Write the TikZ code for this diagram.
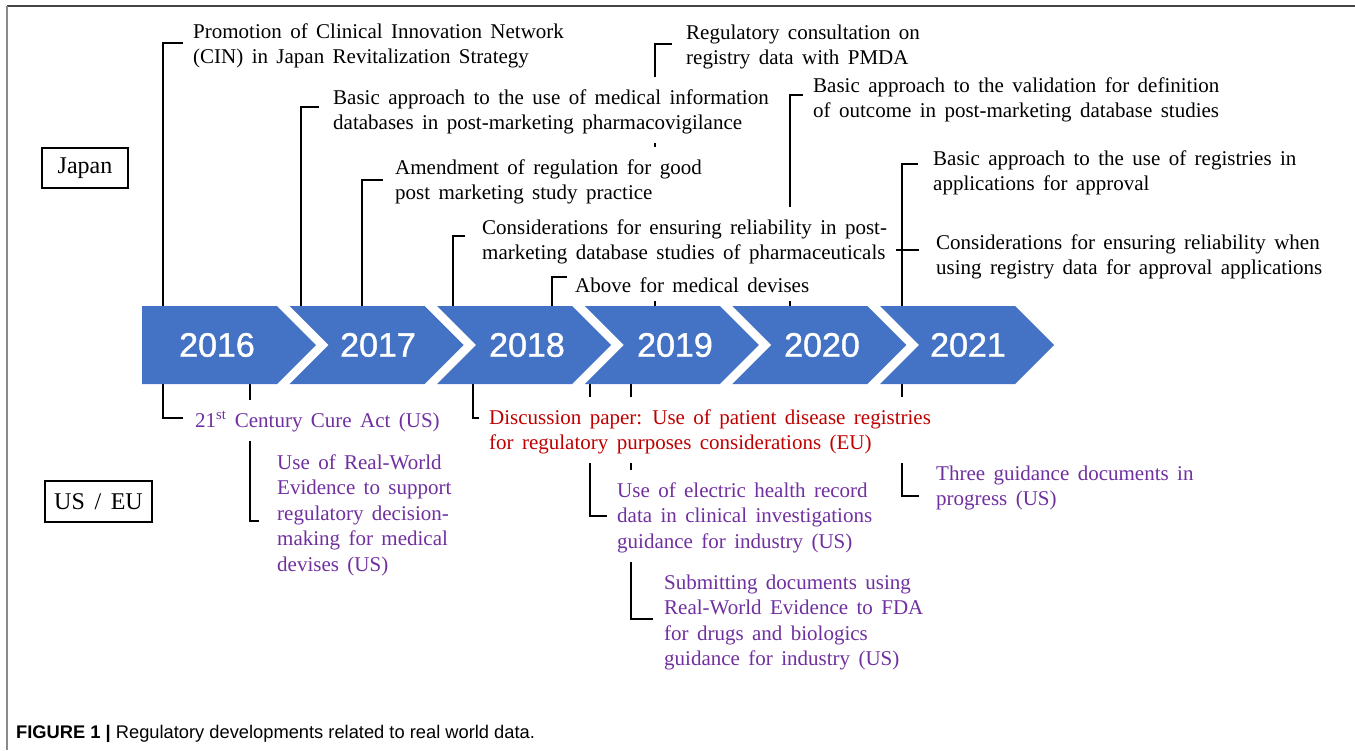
\documentclass[tikz,border=0pt]{standalone}
\usepackage{fontspec}
\setmainfont[WordSpace=1.6]{Liberation Serif}
\newfontfamily\yearfont[FakeBold=1.2]{Liberation Sans}
\newfontfamily\capfont{Liberation Sans}

\definecolor{chevblue}{HTML}{4472C4}
\definecolor{uspurple}{HTML}{7030A0}
\definecolor{eured}{HTML}{C00000}
\definecolor{frametop}{HTML}{444444}
\definecolor{frameleft}{HTML}{8A8A8A}

% strut with height only, so single lines keep their natural depth
\newcommand\hstrut{\rule{0pt}{17.85pt}}

\pgfdeclarelayer{lines}
\pgfsetlayers{lines,main}

\begin{document}
\begin{tikzpicture}[x=1pt,y=-1pt,
  lab/.style={anchor=north west, xshift=-4pt, yshift=20pt,
    inner xsep=4pt, inner ysep=9pt, fill=white, align=left,
    font=\fontsize{21}{25.5}\selectfont, text=black},
  uslab/.style={lab, text=uspurple},
  eulab/.style={lab, text=eured},
  brk/.style={line width=2pt, black},
  regionbox/.style={draw, line width=1.8pt, inner sep=0pt,
    font=\fontsize{24}{28}\selectfont},
  chev/.style={fill=chevblue, draw=none},
  yearlbl/.style={text=white, font=\yearfont\fontsize{34}{40}\selectfont, inner sep=0pt}
]
\useasboundingbox (0,0) rectangle (1355,750);

% figure frame (top and left rules)
\draw[line width=2pt, frametop] (7,6) -- (1355,6);
\draw[line width=2pt, frameleft] (7,750) -- (7,6);

% region labels
\node[regionbox, minimum width=86pt, minimum height=40pt] (japan) at (85,168) {Japan};
\node[regionbox, minimum width=107pt, minimum height=41pt] (useu) at (98.5,501.5) {US / EU};

% year chevrons
\foreach \i/\yr/\tx in {0/2016/217, 1/2017/378, 2/2018/527, 3/2019/675, 4/2020/822, 5/2021/968} {
  \pgfmathsetmacro\s{142+147.6*\i}
  \ifnum\i=0
    \fill[chev] (\s,306) -- (\s+135,306) -- (\s+174,345) -- (\s+135,384) -- (\s,384) -- cycle;
  \else
    \fill[chev] (\s,306) -- (\s+135,306) -- (\s+174,345) -- (\s+135,384) -- (\s,384) -- (\s+39,345) -- cycle;
  \fi
  \node[yearlbl] (Y\yr) at (\tx,345) {\yr};
}

% Japan events
\node[lab] (L1) at (193,31) {\hstrut Promotion of Clinical Innovation Network\\(CIN) in Japan Revitalization Strategy};
\node[lab] (L2) at (333,97) {\hstrut Basic approach to the use of medical information\\databases in post-marketing pharmacovigilance};
\node[lab] (L3) at (395,167) {\hstrut Amendment of regulation for good\\post marketing study practice};
\node[lab] (L4) at (482,227) {\hstrut Considerations for ensuring reliability in post-\\marketing database studies of pharmaceuticals};
\node[lab] (L5) at (575,285) {\hstrut Above for medical devises};
\node[lab] (L6) at (686,32) {\hstrut Regulatory consultation on\\registry data with PMDA};
\node[lab] (L7) at (813,85) {\hstrut Basic approach to the validation for definition\\of outcome in post-marketing database studies};
\node[lab] (L8) at (933,158) {\hstrut Basic approach to the use of registries in\\applications for approval};
\node[lab] (L9) at (936,242) {\hstrut Considerations for ensuring reliability when\\using registry data for approval applications};

% US / EU events
\node[uslab] (B1) at (195,420) {\hstrut 21\textsuperscript{st} Century Cure Act (US)};
\node[uslab] (B2) at (277,462) {\hstrut Use of Real-World\\Evidence to support\\regulatory decision-\\making for medical\\devises (US)};
\node[eulab] (B3) at (489,417) {\hstrut Discussion paper: Use of patient disease registries\\for regulatory purposes considerations (EU)};
\node[uslab] (B4) at (617,490) {\hstrut Use of electric health record\\data in clinical investigations\\guidance for industry (US)};
\node[uslab] (B5) at (664,582) {\hstrut Submitting documents using\\Real-World Evidence to FDA\\for drugs and biologics\\guidance for industry (US)};
\node[uslab] (B6) at (936,473) {\hstrut Three guidance documents in\\progress (US)};

% caption
\node[anchor=base west, inner sep=0pt, font=\capfont\fontsize{18.3}{22}\selectfont] (caption) at (16,738)
  {\textbf{FIGURE 1 |} Regulatory developments related to real world data.};

% bracket connectors, kept behind the label boxes
\begin{pgfonlayer}{lines}
  % points on the top edge of the chevron band
  \coordinate (j1) at (163,306); \coordinate (e1) at (183,43);
  \coordinate (j2) at (301,306); \coordinate (e2) at (319,107);
  \coordinate (j3) at (362,306); \coordinate (e3) at (383,180);
  \coordinate (j4) at (453,306); \coordinate (e4) at (465,236);
  \coordinate (j5) at (552,306); \coordinate (e5) at (567,277);
  \coordinate (j6) at (655,306); \coordinate (e6) at (672,44);
  \coordinate (j7) at (790,306); \coordinate (e7) at (803,95);
  \coordinate (j8) at (902,306); \coordinate (e8) at (918,164);
  \coordinate (k9) at (896,250); \coordinate (e9) at (919,250);
  \draw[brk] (j1) |- (e1);
  \draw[brk] (j2) |- (e2);
  \draw[brk] (j3) |- (e3);
  \draw[brk] (j4) |- (e4);
  \draw[brk] (j5) |- (e5);
  \draw[brk] (j6) |- (e6);
  \draw[brk] (j7) |- (e7);
  \draw[brk] (j8) |- (e8);
  \draw[brk] (k9) -- (e9);
  % points on the bottom edge of the chevron band
  \coordinate (b1) at (163,384); \coordinate (f1) at (183,418);
  \coordinate (b2) at (250,384); \coordinate (f2) at (259,521);
  \coordinate (b3) at (473,384); \coordinate (f3) at (479,418);
  \coordinate (b4) at (590,384); \coordinate (f4) at (607,516);
  \coordinate (b5) at (631,384); \coordinate (f5) at (653,619);
  \coordinate (b6) at (902,384); \coordinate (f6) at (919,496);
  \draw[brk] (b1) |- (f1);
  \draw[brk] (b2) |- (f2);
  \draw[brk] (b3) |- (f3);
  \draw[brk] (b4) |- (f4);
  \draw[brk] (b5) |- (f5);
  \draw[brk] (b6) |- (f6);
\end{pgfonlayer}
\end{tikzpicture}
\end{document}
